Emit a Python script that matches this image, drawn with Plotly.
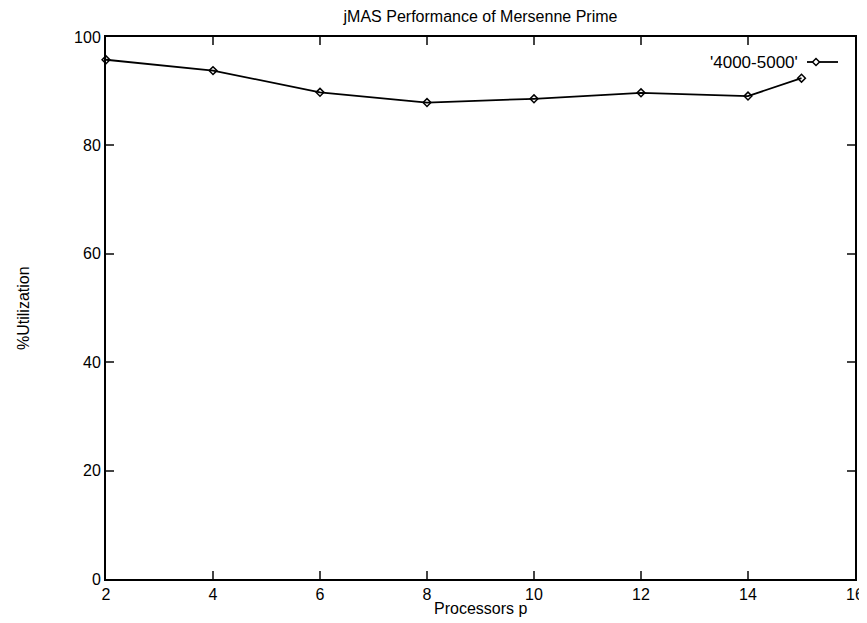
import plotly.graph_objects as go

# Data
processors = [2, 4, 6, 8, 10, 12, 14, 15]
utilization = [95.8, 93.8, 89.8, 87.9, 88.6, 89.7, 89.1, 92.4]
series_name = "'4000-5000'"
x_ticks = [2, 4, 6, 8, 10, 12, 14, 16]
y_ticks = [0, 20, 40, 60, 80, 100]

FONT = "Liberation Sans, Arial, sans-serif"

# page has an 8px body margin: figure coordinates = page coordinates - 8
OFF = 8
W, H = 867 - OFF, 623 - OFF
ml, mt = 106 - OFF, 37 - OFF
plot_right, plot_bottom = 855 - OFF, 579 - OFF
mr, mb = W - plot_right, H - plot_bottom
pw, ph = W - ml - mr, H - mt - mb


def px(xpage):
    return (xpage - OFF - ml) / pw


def py(ypage):
    return (plot_bottom - (ypage - OFF)) / ph


fig = go.Figure()
fig.add_trace(go.Scatter(
    x=processors, y=utilization, mode="lines+markers", name=series_name,
    line=dict(color="black", width=1.8),
    marker=dict(symbol="diamond-open", size=6, color="black", line=dict(width=1.5, color="black")),
    showlegend=False, cliponaxis=False,
))

# legend replica: text left, sample on right
lx0, lx1 = px(807), px(838)
ly = py(62)
cx = px(816)
dx, dy = 3.5 / pw, 3.5 / ph

fig.add_annotation(x=px(800), y=ly, xref="paper", yref="paper", text=series_name,
                   showarrow=False, xanchor="right", yanchor="middle",
                   font=dict(family=FONT, size=17, color="black"))
fig.add_shape(type="line", xref="paper", yref="paper", x0=lx0, x1=lx1, y0=ly, y1=ly,
              line=dict(color="black", width=1.8))
fig.add_shape(type="path", xref="paper", yref="paper",
              path=f"M {cx-dx},{ly} L {cx},{ly+dy} L {cx+dx},{ly} L {cx},{ly-dy} Z",
              fillcolor="white", line=dict(color="black", width=1.5))

# axis titles
fig.add_annotation(x=0.5, y=py(608), xref="paper", yref="paper",
                   text="Processors p", showarrow=False, xanchor="center", yanchor="middle",
                   font=dict(family=FONT, size=16, color="black"))
fig.add_annotation(x=px(23), y=0.5, xref="paper", yref="paper",
                   text="%Utilization", showarrow=False, textangle=-90,
                   xanchor="center", yanchor="middle",
                   font=dict(family=FONT, size=16, color="black"))

fig.update_layout(
    width=W, height=H,
    margin=dict(l=ml, r=mr, t=mt, b=mb),
    paper_bgcolor="white", plot_bgcolor="white",
    font=dict(family=FONT, size=15, color="black"),
    title=dict(text="jMAS Performance of Mersenne Prime", x=(ml + pw / 2) / W, xanchor="center",
               y=1 - (16 - OFF) / H, yanchor="middle", font=dict(family=FONT, size=16)),
    xaxis=dict(range=[2, 16], tickvals=x_ticks, ticks="inside", ticklen=8, tickwidth=1.5,
               showline=True, linecolor="black", linewidth=2, mirror="ticks", showgrid=False,
               zeroline=False, tickfont=dict(size=16), automargin=False,
               ticklabeloverflow="allow"),
    yaxis=dict(range=[0, 100], tickvals=y_ticks, ticks="inside", ticklen=8, tickwidth=1.5,
               showline=True, linecolor="black", linewidth=2, mirror="ticks", showgrid=False,
               zeroline=False, tickfont=dict(size=16), automargin=False),
)

fig.write_html("out.html")
